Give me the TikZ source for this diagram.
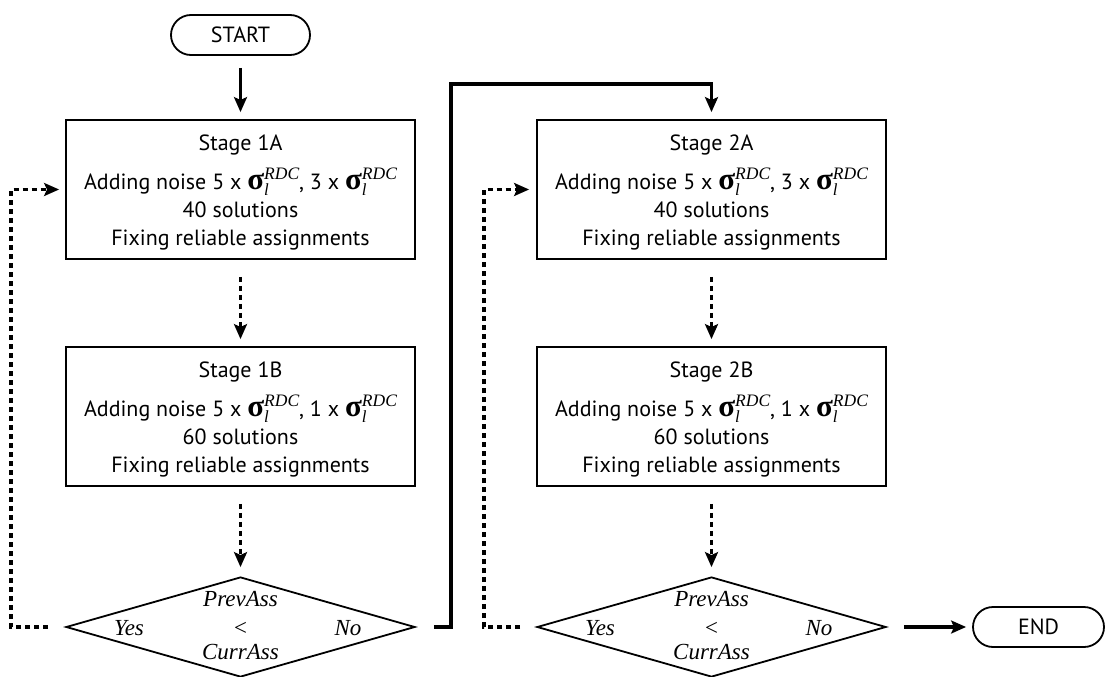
\documentclass[tikz,border=0pt]{standalone}
\usepackage{fontspec}
\setmainfont{PT Sans}
\newfontfamily\tnr{Liberation Serif}
\usetikzlibrary{arrows.meta,shapes.geometric,calc}
\newcommand\sgm{{\tnr\bfseries\fontsize{31}{31}\selectfont σ}\makebox[0pt][l]{\raisebox{-6pt}{\tnr\itshape\fontsize{17}{17}\selectfont l}}\raisebox{10pt}{\tnr\itshape\fontsize{17.5}{17.5}\selectfont RDC}}
\newcommand\topstrut{\rule{0pt}{21pt}}
\tikzset{
  box/.style={draw, line width=1.8pt, minimum width=349pt, minimum height=139pt, inner sep=0pt, align=center, font=\fontsize{22}{28}\selectfont},
  term/.style={draw, line width=1.8pt, rounded corners=20pt, minimum width=139pt, minimum height=40pt, inner sep=0pt, font=\fontsize{22}{26}\selectfont},
  dec/.style={draw, diamond, line width=1.8pt, minimum width=349pt, minimum height=100pt, inner sep=0pt},
  itl/.style={anchor=base, inner sep=0pt, font=\tnr\itshape\fontsize{23}{23}\selectfont},
  solidarrow/.style={line width=3.3pt, line join=miter, -{Stealth[length=15pt,width=13pt,inset=3pt]}},
  dotarrow/.style={line width=3.3pt, dash pattern=on 5pt off 4pt, -{Stealth[length=15pt,width=13pt,inset=3pt]}}
}
\begin{document}
\begin{tikzpicture}[x=1pt,y=-1pt]
\useasboundingbox (0,0) rectangle (1106,677);
\node[term] (start) at (240.5,35) {START};
\node[box] (s1a) at (240.5,189.5) {\topstrut Stage 1A\\[11pt]Adding noise 5 x \sgm, 3 x \sgm\\40 solutions\\Fixing reliable assignments};
\node[box] (s1b) at (240.5,416.5) {\topstrut Stage 1B\\[11pt]Adding noise 5 x \sgm, 1 x \sgm\\60 solutions\\Fixing reliable assignments};
\node[dec] (d1) at (240.5,627) {};
\node[itl] (p1) at ($(d1.center)+(0,-21)$) {PrevAss};
\node[itl] (y1) at ($(d1.center)+(-111.5,8)$) {Yes};
\node[itl] (l1) at ($(d1.center)+(0,8)$) {<};
\node[itl] (n1) at ($(d1.center)+(107.5,8)$) {No};
\node[itl] (c1) at ($(d1.center)+(0,32)$) {CurrAss};
\node[box] (s2a) at (711.5,189.5) {\topstrut Stage 2A\\[11pt]Adding noise 5 x \sgm, 3 x \sgm\\40 solutions\\Fixing reliable assignments};
\node[box] (s2b) at (711.5,416.5) {\topstrut Stage 2B\\[11pt]Adding noise 5 x \sgm, 1 x \sgm\\60 solutions\\Fixing reliable assignments};
\node[dec] (d2) at (711.5,627) {};
\node[itl] (p2) at ($(d2.center)+(0,-21)$) {PrevAss};
\node[itl] (y2) at ($(d2.center)+(-111.5,8)$) {Yes};
\node[itl] (l2) at ($(d2.center)+(0,8)$) {<};
\node[itl] (n2) at ($(d2.center)+(107.5,8)$) {No};
\node[itl] (c2) at ($(d2.center)+(0,32)$) {CurrAss};
\node[term, minimum width=131pt] (end) at (1038.5,627) {END};
\draw[solidarrow, shorten <=12pt, shorten >=7pt] (start) -- (s1a);
\draw[dotarrow, shorten <=17pt, shorten >=7pt] (s1a) -- (s1b);
\draw[dotarrow, shorten <=17pt, shorten >=9pt] (s1b) -- (d1);
\draw[dotarrow, shorten <=17pt, shorten >=6pt] (d1.west) -- ++(-54,0) |- (s1a.west);
\draw[solidarrow, shorten <=18pt, shorten >=7pt] (d1.east) -- ++(35,0) |- ([yshift=35pt]s2a.north) -- (s2a.north);
\draw[dotarrow, shorten <=17pt, shorten >=7pt] (s2a) -- (s2b);
\draw[dotarrow, shorten <=17pt, shorten >=9pt] (s2b) -- (d2);
\draw[dotarrow, shorten <=16pt, shorten >=7pt] (d2.west) -- ++(-52,0) |- (s2a.west);
\draw[solidarrow, shorten <=17pt, shorten >=6pt] (d2.east) -- (end.west);
\end{tikzpicture}
\end{document}
